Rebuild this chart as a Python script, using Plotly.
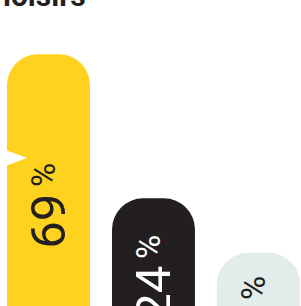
import plotly.graph_objects as go

categories = ["A", "B", "C"]
values = [69, 24, 7]
labels = ["69", "24", "7"]
colors = ["#FFD21F", "#231F20", "#E2ECEA"]
text_colors = ["#231F20", "#FFFFFF", "#231F20"]
title_text = "loisirs"

W, H = 301, 306
base_val = -25.6

texts = [f'{l}<span style="font-size:33px;baseline-shift:10px;letter-spacing:0">\u2009%</span>' for l in labels]

fig = go.Figure(go.Bar(
    x=list(range(len(categories))),
    y=[v - base_val for v in values],
    base=base_val,
    width=0.79,
    marker=dict(color=colors, cornerradius=31, line=dict(width=0)),
    text=texts,
    textposition="inside",
    insidetextanchor="middle",
    textangle=-90,
    constraintext="none",
    textfont=dict(family="Roboto", size=49, color=text_colors),
    hoverinfo="skip",
))

# speech-bubble pointer (decoration)
fig.add_shape(type="path", xref="paper", yref="paper",
              path=f"M 0 {1-148/H} L {27/W} {1-158/H} L 0 {1-168/H} Z",
              fillcolor="white", line=dict(width=0), layer="above")

fig.add_annotation(text=f"<b>{title_text}</b>", xref="paper", yref="paper",
                   x=88/W, y=1 + 5/H, xanchor="right", yanchor="middle",
                   showarrow=False, font=dict(family="Roboto", size=30, color="#231F20"))

fig.update_layout(
    width=W, height=H,
    margin=dict(l=0, r=0, t=0, b=0),
    paper_bgcolor="white", plot_bgcolor="white",
    showlegend=False,
    xaxis=dict(range=[-0.462, 2.405], visible=False, fixedrange=True),
    yaxis=dict(range=[-9.6, 85.9], visible=False, fixedrange=True),
)

fig.write_html("out.html", config={"displayModeBar": False},
               post_script="document.body.style.margin='0';document.body.style.overflow='hidden';")
